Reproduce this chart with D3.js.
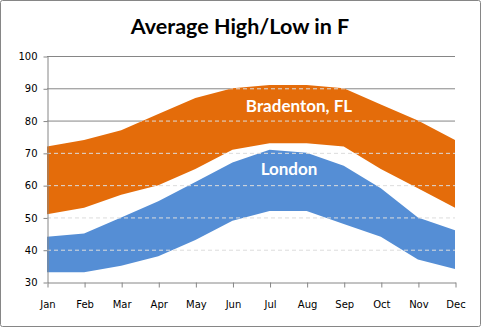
<!DOCTYPE html>
<html>
<head>
<meta charset="utf-8">
<script src="https://cdn.jsdelivr.net/npm/d3@7"></script>
<style>
  body { margin: 0; background: #fff; }
  svg { display: block; }
</style>
</head>
<body>
<div id="chart"></div>
<script>
// data
var months = ["Jan", "Feb", "Mar", "Apr", "May", "Jun", "Jul", "Aug", "Sep", "Oct", "Nov", "Dec"];
var bradentonHigh = [72, 74, 77, 82, 87, 90, 91, 91, 90, 85, 80, 74];
var bradentonLow  = [51, 53, 57, 60, 65, 71, 73, 73, 72, 65, 59, 53];
var londonHigh    = [44, 45, 50, 55, 61, 67, 71, 70, 66, 59, 50, 46];
var londonLow     = [33, 33, 35, 38, 43, 49, 52, 52, 48, 44, 37, 34];
var yTicks = [30, 40, 50, 60, 70, 80, 90, 100];

var width = 481, height = 327;
var margin = {top: 56, right: 26, bottom: 45, left: 47};

var svg = d3.select("#chart")
    .append("svg")
    .attr("width", width)
    .attr("height", height);

// outer frame
svg.append("rect")
    .attr("x", 0.5).attr("y", 0.5)
    .attr("width", width - 1).attr("height", height - 1)
    .attr("rx", 2)
    .attr("fill", "#fff")
    .attr("stroke", "#868686");

svg.append("text")
    .attr("x", 240)
    .attr("y", 34)
    .attr("text-anchor", "middle")
    .style("font-family", "Lato, 'Open Sans', sans-serif")
    .style("font-weight", "bold")
    .style("font-size", "21.5px")
    .attr("fill", "#000")
    .text("Average High/Low in F");

var x = d3.scalePoint()
    .domain(months)
    .range([margin.left, width - margin.right]);

var y = d3.scaleLinear()
    .domain([30, 100])
    .range([height - margin.bottom, margin.top]);

var rows = months.map(function(m, i) {
    return {m: m, bh: bradentonHigh[i], bl: bradentonLow[i], lh: londonHigh[i], ll: londonLow[i]};
});

// solid gridlines (visible above the bands)
svg.append("g")
    .selectAll("line")
    .data(yTicks.slice(1))
    .enter()
    .append("line")
    .attr("x1", margin.left)
    .attr("x2", width - margin.right)
    .attr("y1", function(d) { return y(d) + 0.5; })
    .attr("y2", function(d) { return y(d) + 0.5; })
    .attr("stroke", "#868686")
    .attr("stroke-width", 1);

var areaUnder = d3.area()
    .x(function(d) { return x(d.m); })
    .y0(y(30))
    .y1(function(d) { return y(d.bh); });

// white stacked base/gap area
svg.append("path")
    .datum(rows)
    .attr("d", areaUnder)
    .attr("fill", "#fff");

svg.append("clipPath")
    .attr("id", "under")
    .append("path")
    .datum(rows)
    .attr("d", areaUnder);

var bradentonArea = d3.area()
    .x(function(d) { return x(d.m); })
    .y0(function(d) { return y(d.bl); })
    .y1(function(d) { return y(d.bh); });

var londonArea = d3.area()
    .x(function(d) { return x(d.m); })
    .y0(function(d) { return y(d.ll); })
    .y1(function(d) { return y(d.lh); });

svg.append("path")
    .datum(rows)
    .attr("d", bradentonArea)
    .attr("fill", "#e46c0a");

svg.append("path")
    .datum(rows)
    .attr("d", londonArea)
    .attr("fill", "#558ed5");

// dashed gridlines drawn over the bands
svg.append("g")
    .attr("clip-path", "url(#under)")
    .selectAll("line")
    .data(yTicks.slice(1))
    .enter()
    .append("line")
    .attr("x1", margin.left)
    .attr("x2", width - margin.right)
    .attr("y1", function(d) { return y(d) + 0.5; })
    .attr("y2", function(d) { return y(d) + 0.5; })
    .attr("stroke", "#dcdcdc")
    .attr("stroke-dasharray", "4,3")
    .attr("stroke-width", 1);

// axes
var yAxis = svg.append("g")
    .attr("transform", "translate(" + (margin.left + 0.5) + ",0.5)")
    .call(d3.axisLeft(y).tickValues(yTicks).tickSize(4).tickPadding(6).tickSizeOuter(0));

var xAxis = svg.append("g")
    .attr("transform", "translate(0.5," + (y(30) + 0.5) + ")")
    .call(d3.axisBottom(x).tickSize(5).tickPadding(13).tickSizeOuter(0));

[yAxis, xAxis].forEach(function(a) {
    a.select(".domain").attr("stroke", "#868686");
    a.selectAll(".tick line").attr("stroke", "#868686");
    a.selectAll("text")
        .attr("fill", "#000")
        .style("font-family", "'DejaVu Sans', Verdana, sans-serif")
        .style("font-size", "10px");
});

// series labels
svg.append("text")
    .attr("x", 299)
    .attr("y", 112)
    .attr("text-anchor", "middle")
    .attr("fill", "#fff")
    .style("font-family", "Lato, 'Open Sans', sans-serif")
    .style("font-weight", "bold")
    .style("font-size", "17px")
    .text("Bradenton, FL");

svg.append("text")
    .attr("x", 289)
    .attr("y", 175)
    .attr("text-anchor", "middle")
    .attr("fill", "#fff")
    .style("font-family", "Lato, 'Open Sans', sans-serif")
    .style("font-weight", "bold")
    .style("font-size", "17px")
    .text("London");
</script>
</body>
</html>
